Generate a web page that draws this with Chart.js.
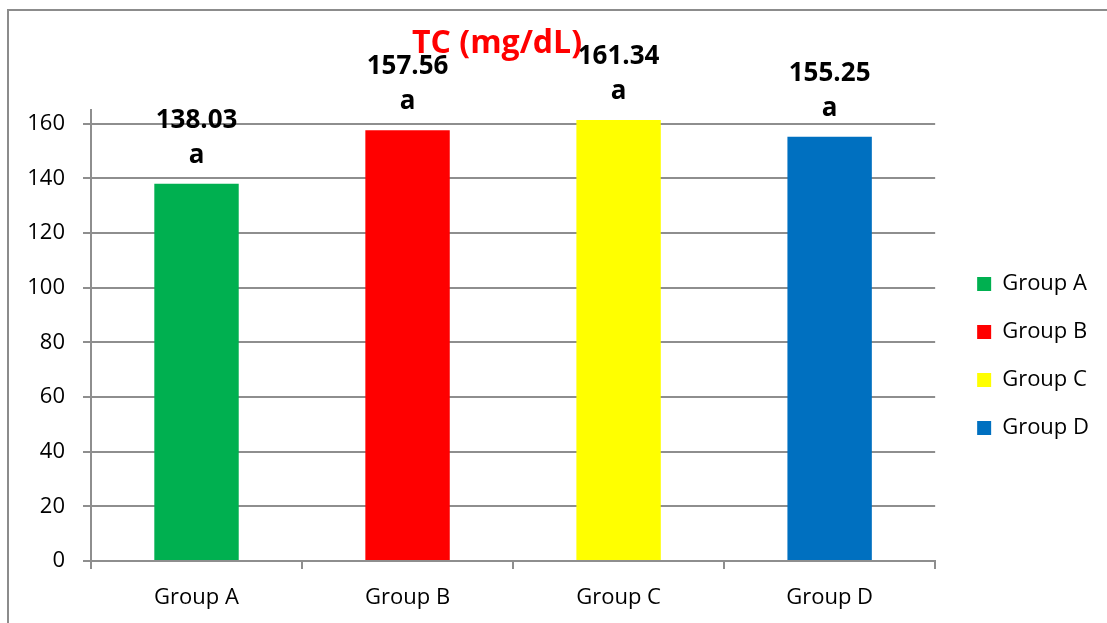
<!DOCTYPE html>
<html>
<head>
<meta charset="utf-8">
<title>TC (mg/dL)</title>
<script src="https://cdn.jsdelivr.net/npm/chart.js@4/dist/chart.umd.min.js"></script>
<style>
  html, body { margin: 0; padding: 0; background: #ffffff; overflow: hidden; }
  #wrap { position: relative; width: 1107px; height: 623px; }
  #frame { position: absolute; left: 7px; top: 9px; width: 1300px; height: 800px;
           border: 2px solid #8c8c8c; box-sizing: border-box; pointer-events: none; }
  #chart { position: absolute; left: 0; top: 0; }
</style>
</head>
<body>
<div id="wrap">
  <div id="frame"></div>
  <canvas id="chart" width="1107" height="623"></canvas>
</div>
<script>
// Total cholesterol per group
const categories = ['Group A', 'Group B', 'Group C', 'Group D'];
const tcValues = [138.03, 157.56, 161.34, 155.25];
const groupLetters = ['a', 'a', 'a', 'a'];
const barColors = ['#00B050', '#FF0000', '#FFFF00', '#0070C0'];
const yTickValues = [0, 20, 40, 60, 80, 100, 120, 140, 160];
const yAxisMax = 165;
const chartTitle = 'TC (mg/dL)';

const gridGrey = '#8e8e8e';
const baseFont = 'Open Sans';

// Value + significance letter above every bar
const barLabels = {
  id: 'barLabels',
  afterDatasetsDraw(chart) {
    const ctx = chart.ctx;
    const meta = chart.getDatasetMeta(0);
    ctx.save();
    ctx.fillStyle = '#000000';
    ctx.textAlign = 'center';
    ctx.textBaseline = 'alphabetic';
    ctx.font = 'bold 26px "' + baseFont + '"';
    meta.data.forEach((bar, i) => {
      ctx.fillText(tcValues[i].toFixed(2), bar.x, bar.y - 56);
      ctx.fillText(groupLetters[i], bar.x, bar.y - 21);
    });
    ctx.restore();
  }
};

// Red chart heading
const heading = {
  id: 'heading',
  afterDraw(chart) {
    const ctx = chart.ctx;
    const area = chart.chartArea;
    ctx.save();
    ctx.fillStyle = '#FF0000';
    ctx.textAlign = 'center';
    ctx.textBaseline = 'alphabetic';
    ctx.font = 'bold 32px "' + baseFont + '"';
    ctx.fillText(chartTitle, area.left + area.width * 0.481, 53);
    ctx.restore();
  }
};

// Empty spacer scale used to reserve room around the plot
function spacer(position, size) {
  const horizontal = position === 'top' || position === 'bottom';
  return {
    type: horizontal ? 'category' : 'linear',
    position: position,
    display: true,
    grid: { display: false, drawTicks: false },
    border: { display: false },
    ticks: { display: false },
    afterFit(scale) {
      if (horizontal) { scale.height = size; } else { scale.width = size; }
    }
  };
}

function draw() {
  new Chart(document.getElementById('chart'), {
    type: 'bar',
    data: {
      labels: categories,
      datasets: [{
        label: chartTitle,
        data: tcValues,
        backgroundColor: barColors,
        borderWidth: 0,
        categoryPercentage: 1.0,
        barPercentage: 0.4
      }]
    },
    options: {
      responsive: false,
      animation: false,
      devicePixelRatio: 1,
      layout: { padding: { left: 0, right: 8, top: 89, bottom: 0 } },
      plugins: {
        title: { display: false },
        tooltip: { enabled: false },
        legend: {
          display: true,
          position: 'right',
          align: 'center',
          fullSize: true,
          onClick: null,
          labels: {
            boxWidth: 14,
            boxHeight: 14,
            padding: 26,
            color: '#000000',
            font: { family: baseFont, size: 22 },
            generateLabels: () => categories.map((name, i) => ({
              text: name,
              fillStyle: barColors[i],
              strokeStyle: barColors[i],
              lineWidth: 0,
              hidden: false,
              index: i,
              datasetIndex: 0
            }))
          }
        }
      },
      scales: {
        x: {
          grid: {
            display: true,
            drawOnChartArea: false,
            drawTicks: true,
            tickLength: 8,
            color: gridGrey,
            lineWidth: 2
          },
          border: { display: true, color: gridGrey, width: 2 },
          ticks: {
            color: '#000000',
            font: { family: baseFont, size: 22 },
            padding: 16,
            maxRotation: 0
          },
          afterFit(scale) { scale.height = 62; }
        },
        y: {
          min: 0,
          max: yAxisMax,
          grid: {
            color: gridGrey,
            lineWidth: 2,
            drawTicks: true,
            tickLength: 8
          },
          border: { display: true, color: gridGrey, width: 2 },
          ticks: {
            color: '#000000',
            font: { family: baseFont, size: 22 },
            padding: 18
          },
          afterBuildTicks(scale) {
            scale.ticks = yTickValues.map(v => ({ value: v }));
          },
          afterFit(scale) { scale.width = 91; }
        },
        gapTop: spacer('top', 21),
        gapRight: spacer('right', 16)
      }
    },
    plugins: [barLabels, heading]
  });
}

if (document.fonts && document.fonts.load) {
  Promise.all([
    document.fonts.load('22px "Open Sans"'),
    document.fonts.load('bold 26px "Open Sans"')
  ]).then(draw, draw);
} else {
  draw();
}
</script>
</body>
</html>
